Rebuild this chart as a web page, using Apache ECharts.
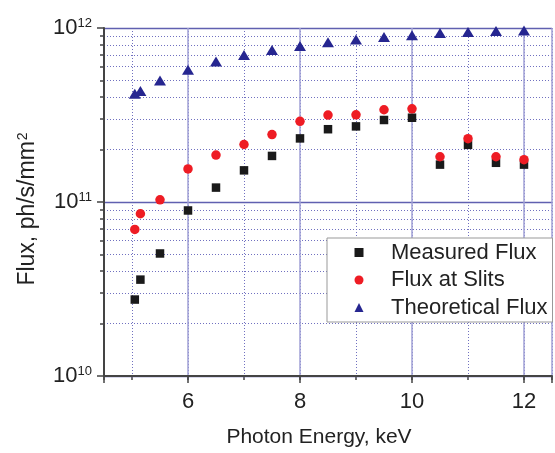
<!DOCTYPE html>
<html>
<head>
<meta charset="utf-8">
<script src="https://cdn.jsdelivr.net/npm/echarts@6/dist/echarts.min.js"></script>
<style>
html,body{margin:0;padding:0;background:#fff;}
#chart{width:555px;height:453px;}
</style>
</head>
<body>
<div id="chart"></div>
<script>
const energy = [5.05, 5.15, 5.5, 6, 6.5, 7, 7.5, 8, 8.5, 9, 9.5, 10, 10.5, 11, 11.5, 12];
const measuredFlux = [2.75e10, 3.58e10, 5.06e10, 8.94e10, 1.21e11, 1.52e11, 1.84e11, 2.32e11, 2.62e11, 2.72e11, 2.96e11, 3.05e11, 1.64e11, 2.13e11, 1.68e11, 1.64e11];
const slitsFlux = [6.96e10, 8.56e10, 1.03e11, 1.55e11, 1.86e11, 2.14e11, 2.44e11, 2.91e11, 3.16e11, 3.17e11, 3.39e11, 3.43e11, 1.82e11, 2.31e11, 1.82e11, 1.75e11];
const theoreticalFlux = [4.19e11, 4.34e11, 5.0e11, 5.75e11, 6.42e11, 7.0e11, 7.48e11, 7.88e11, 8.29e11, 8.6e11, 8.88e11, 9.08e11, 9.35e11, 9.47e11, 9.6e11, 9.69e11];
const seriesNames = ['Measured Flux', 'Flux at Slits', 'Theoretical Flux'];
const xTickLabels = ['6', '8', '10', '12'];

const FONT = '"Liberation Sans", Arial, sans-serif';
const pairs = ys => energy.map((x, i) => [x, ys[i]]);

const chart = echarts.init(document.getElementById('chart'), null, {renderer: 'canvas'});
chart.setOption({
  animation: false,
  backgroundColor: '#fff',
  grid: {left: 104, right: 0, top: 28, bottom: 68, containLabel: false},
  xAxis: [{
    type: 'value', min: 4.5, max: 12.5, splitNumber: 4,
    name: 'Photon Energy, keV', nameLocation: 'middle', nameGap: 51,
    nameTextStyle: {fontFamily: FONT, fontSize: 21, color: '#222', padding: [0, 18, 0, 0]},
    axisLine: {show: true, onZero: false, lineStyle: {color: '#444', width: 2}},
    axisTick: {show: true, inside: false, length: 7, lineStyle: {color: '#444', width: 1.5}},
    axisLabel: {
      margin: 15, fontFamily: FONT, fontSize: 22, color: '#222',
      formatter: v => xTickLabels.indexOf(String(v)) >= 0 ? String(v) : ''
    },
    splitLine: {show: true, lineStyle: {color: '#a0a0d6', width: 1.5, type: 'solid'}},
    z: 3
  }, {
    type: 'value', min: 4.5, max: 12.5, splitNumber: 8, position: 'bottom',
    axisLine: {show: false},
    axisTick: {show: true, inside: false, length: 4, lineStyle: {color: '#444', width: 1.5}},
    axisLabel: {show: false},
    splitLine: {show: true, lineStyle: {color: '#7070c0', width: 1, type: [1, 2]}},
    z: 2
  }],
  yAxis: {
    type: 'log', logBase: 10, min: 1e10, max: 1e12,
    name: 'Flux, ph/s/mm{sup|2}', nameLocation: 'middle', nameGap: 65, nameRotate: 90,
    nameTextStyle: {fontFamily: FONT, fontSize: 23, color: '#222', padding: [0, 14, 0, 0],
      rich: {sup: {fontFamily: FONT, fontSize: 14, verticalAlign: 'top', lineHeight: 14, padding: [0, 0, 0, 1]}}},
    axisLine: {show: true, onZero: false, lineStyle: {color: '#444', width: 2}},
    axisTick: {show: true, inside: false, length: 7, lineStyle: {color: '#444', width: 1.5}},
    minorTick: {show: true, splitNumber: 9, length: 4, lineStyle: {color: '#444', width: 1.5}},
    axisLabel: {
      margin: 12, fontFamily: FONT, color: '#222',
      formatter: v => {
        const e = Math.round(Math.log10(v));
        if (Math.abs(Math.log10(v) - e) > 1e-6) return '';
        return '{b|10}{e|' + e + '}';
      },
      rich: {
        b: {fontFamily: FONT, fontSize: 22, lineHeight: 22, verticalAlign: 'bottom', padding: [5, 0, 0, 0], color: '#222'},
        e: {fontFamily: FONT, fontSize: 13, lineHeight: 13, verticalAlign: 'top', color: '#222'}
      }
    },
    splitLine: {show: true, lineStyle: {color: '#6060b0', width: 1.3}},
    minorSplitLine: {show: true, lineStyle: {color: '#7070c0', width: 1, type: [1, 2]}},
    z: 3
  },
  legend: {
    orient: 'vertical', left: 327, top: 238,
    padding: [3.5, 5, 3.5, 27.5], itemGap: 5.5,
    itemWidth: 9, itemHeight: 9,
    backgroundColor: '#fff', borderColor: '#999', borderWidth: 1, borderRadius: 0,
    textStyle: {fontFamily: FONT, fontSize: 22, lineHeight: 22, color: '#222', padding: [0, 0, 0, 22.5]},
    data: seriesNames
  },
  series: [{
    name: seriesNames[0], type: 'scatter', xAxisIndex: 0,
    symbol: 'rect', symbolSize: 8.5,
    itemStyle: {color: '#1a1a1a', opacity: 1},
    data: pairs(measuredFlux), z: 5
  }, {
    name: seriesNames[1], type: 'scatter', xAxisIndex: 0,
    symbol: 'circle', symbolSize: 9.5,
    itemStyle: {color: '#ee1c24', opacity: 1},
    data: pairs(slitsFlux), z: 5
  }, {
    name: seriesNames[2], type: 'scatter', xAxisIndex: 0,
    symbol: 'triangle', symbolSize: [12, 10],
    itemStyle: {color: '#262690', opacity: 1},
    data: pairs(theoreticalFlux), z: 5
  }]
});
</script>
</body>
</html>
